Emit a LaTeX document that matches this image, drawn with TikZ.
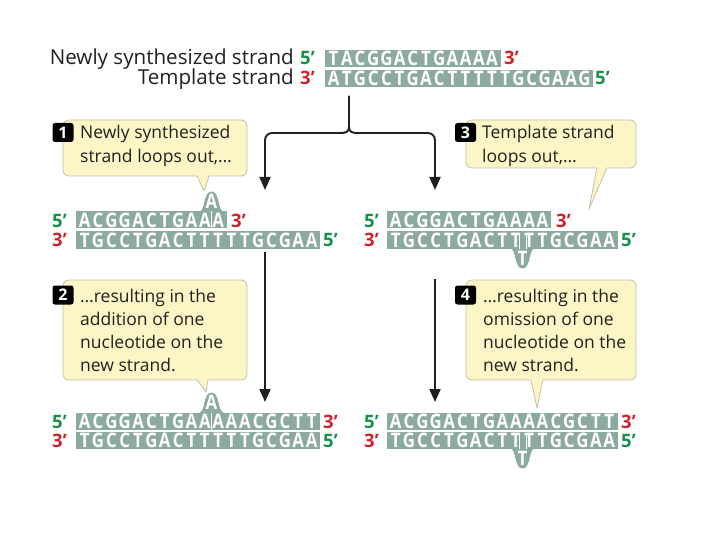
\documentclass[tikz,border=0pt]{standalone}
\usepackage{fontspec}
\setmainfont{Open Sans}
\newfontfamily\seqfont{Open Sans}[FakeStretch=0.84]
\usetikzlibrary{arrows.meta}
\definecolor{seqbox}{RGB}{141,170,159}
\definecolor{fivegreen}{RGB}{23,144,74}
\definecolor{threered}{RGB}{204,34,41}
\definecolor{callfill}{RGB}{252,245,198}
\definecolor{calldraw}{RGB}{196,192,166}
\definecolor{txt}{RGB}{35,31,32}
\tikzset{
 seq/.style={text=white, font=\seqfont\bfseries\fontsize{20}{20}\selectfont, inner sep=0, anchor=base},
 endlab/.style={font=\bfseries\fontsize{18.5}{18.5}\selectfont, inner sep=0, anchor=base west},
 five/.style={endlab, text=fivegreen},
 three/.style={endlab, text=threered},
 ctext/.style={font=\fontsize{17.5}{17.5}\selectfont, inner sep=0, anchor=base west, text=txt},
 htext/.style={font=\fontsize{20.6}{20.6}\selectfont, inner sep=0, anchor=base east, text=txt},
 badge/.style={fill=black, rounded corners=2.5, text=white, font=\bfseries\fontsize{16}{16}\selectfont, minimum width=21, minimum height=19, inner sep=0},
 callbox/.style={fill=callfill, draw=calldraw, line width=0.8, rounded corners=6},
 flow/.style={line width=1.9, txt, -{Triangle[width=11,length=13]}},
 loopline/.style={white, line width=0.7},
}
% name, x0, yc, pitch, n, letters
\newcommand\dnarow[6]{%
 \fill[seqbox] ({#2-2},{#3-8.5}) rectangle ({#2+#5*#4+2},{#3+8.5});
 \foreach \c [count=\i] in {#6} {\node[seq] (#1-\i) at ({#2+(\i-0.5)*#4},{#3+7.1}) {\c};}
}
% x, y of box top
\newcommand\bulgeup[2]{%
 \fill[seqbox] ({#1-12},{#2+1}) -- ({#1-12},#2) .. controls ({#1-6},{#2-1}) and ({#1-8.5},{#2-20}) .. ({#1},{#2-20}) .. controls ({#1+8.5},{#2-20}) and ({#1+6},{#2-1}) .. ({#1+12},#2) -- ({#1+12},{#2+1}) -- cycle;
}
% x, y of box bottom
\newcommand\bulgedown[2]{%
 \fill[seqbox] ({#1-12},{#2-1}) -- ({#1-12},#2) .. controls ({#1-6},{#2+1}) and ({#1-8.5},{#2+20}) .. ({#1},{#2+20}) .. controls ({#1+8.5},{#2+20}) and ({#1+6},{#2+1}) .. ({#1+12},#2) -- ({#1+12},{#2-1}) -- cycle;
}
% x1,y1,x2,y2, tailL, tailR, tipx, tipy
\newcommand\callout[8]{%
 \draw[callbox] (#1,#2) rectangle (#3,#4);
 \fill[callfill] (#5,{#4-1.5}) -- (#7,#8) -- (#6,{#4-1.5}) -- cycle;
 \draw[draw=calldraw, line width=0.8, line join=round] (#5,#4) -- (#7,#8) -- (#6,#4);
}
\begin{document}
\begin{tikzpicture}[x=1pt,y=-1pt]
\useasboundingbox (0,0) rectangle (720,540);

% ---------- header ----------
\node[htext] (hnew) at (294,65) {Newly synthesized strand};
\node[htext] (htemp) at (294,85) {Template strand};
\node[five] (h5a) at (300,65) {5’};
\node[three] (h3b) at (300,85) {3’};
\dnarow{hA}{327}{58.5}{13.2}{13}{T,A,C,G,G,A,C,T,G,A,A,A,A}
\dnarow{hB}{327}{78.5}{13.2}{20}{A,T,G,C,C,T,G,A,C,T,T,T,T,T,G,C,G,A,A,G}
\node[three] (h3a) at (504,65) {3’};
\node[five] (h5b) at (595,85) {5’};

% ---------- arrows ----------
\coordinate (stemtop) at (349,96);
\coordinate (l1) at (265,190);
\coordinate (r1) at (435,190);
\draw[flow] (stemtop) -- (349,127) .. controls (349,132) and (346,133) .. (340,133) [rounded corners=7] -- (265,133) -- (l1);
\draw[flow] (stemtop) -- (349,127) .. controls (349,132) and (352,133) .. (358,133) [rounded corners=7] -- (435,133) -- (r1);
\coordinate (l2s) at (265,252);
\coordinate (l2) at (265,402);
\coordinate (r2s) at (435,279);
\coordinate (r2) at (435,402);
\draw[flow] (l2s) -- (l2);
\draw[flow] (r2s) -- (r2);

% ---------- callouts ----------
\callout{63}{120}{247}{176}{197}{209}{204}{191}
\node[ctext] (c1a) at (80,139) {Newly synthesized};
\node[ctext] (c1b) at (80,163) {strand loops out,…};
\node[badge] (b1) at (63,132.5) {1};

\callout{63}{280}{247}{380}{197}{208}{206}{392}
\node[ctext] (c2a) at (80,302) {…resulting in the};
\node[ctext] (c2b) at (80,325) {addition of one};
\node[ctext] (c2c) at (80,348) {nucleotide on the};
\node[ctext] (c2d) at (80,371) {new strand.};
\node[badge] (b2) at (63,295) {2};

\callout{466}{120}{636}{168}{597}{607}{589}{209}
\node[ctext] (c3a) at (482,139) {Template strand};
\node[ctext] (c3b) at (482,163) {loops out,…};
\node[badge] (b3) at (465.5,132.5) {3};

\callout{466}{280}{636}{380}{531}{543}{537}{408}
\node[ctext] (c4a) at (483,302) {…resulting in the};
\node[ctext] (c4b) at (483,325) {omission of one};
\node[ctext] (c4c) at (483,348) {nucleotide on the};
\node[ctext] (c4d) at (483,371) {new strand.};
\node[badge] (b4) at (465.5,295) {4};

% ---------- row 1 left ----------
\bulgeup{211.5}{211.5}
\node[seq] (r1lA) at (211.5,208.5) {A};
\dnarow{r1lt}{78}{220}{13.35}{11}{A,C,G,G,A,C,T,G,A,A,A}
\dnarow{r1lb}{78}{240}{13.35}{18}{T,G,C,C,T,G,A,C,T,T,T,T,T,G,C,G,A,A}
\draw[loopline] (211.5,211.5) -- (211.5,228.5);
\node[five] (r1l5) at (52,227) {5’};
\node[three] (r1l3) at (231,227) {3’};
\node[three] (r1l3b) at (52,247) {3’};
\node[five] (r1l5b) at (323,247) {5’};

% ---------- row 1 right ----------
\dnarow{r1rt}{389}{220}{13.35}{12}{A,C,G,G,A,C,T,G,A,A,A,A}
\dnarow{r1rb}{389}{240}{13.35}{17}{T,G,C,C,T,G,A,C,T,T,T,T,G,C,G,A,A}
\bulgedown{522.5}{248.5}
\node[seq] (r1rT) at (522.5,265.5) {T};
\draw[loopline] (519,234.5) -- (519,248.5);
\draw[loopline] (526,234.5) -- (526,248.5);
\node[five] (r1r5) at (364,227) {5’};
\node[three] (r1r3) at (556,227) {3’};
\node[three] (r1r3b) at (364,247) {3’};
\node[five] (r1r5b) at (621,247) {5’};

% ---------- row 2 left ----------
\bulgeup{211.5}{412.5}
\node[seq] (r2lA) at (211.5,409.5) {A};
\dnarow{r2lt}{78}{421}{13.35}{18}{A,C,G,G,A,C,T,G,A,A,A,A,A,C,G,C,T,T}
\dnarow{r2lb}{78}{440}{13.35}{18}{T,G,C,C,T,G,A,C,T,T,T,T,T,G,C,G,A,A}
\draw[loopline] (211.5,412.5) -- (211.5,429.5);
\node[five] (r2l5) at (52,428) {5’};
\node[three] (r2l3) at (323,428) {3’};
\node[three] (r2l3b) at (52,447) {3’};
\node[five] (r2l5b) at (323,447) {5’};

% ---------- row 2 right ----------
\dnarow{r2rt}{389}{421}{13.35}{17}{A,C,G,G,A,C,T,G,A,A,A,A,C,G,C,T,T}
\dnarow{r2rb}{389}{440}{13.35}{17}{T,G,C,C,T,G,A,C,T,T,T,T,G,C,G,A,A}
\bulgedown{522.5}{448.5}
\node[seq] (r2rT) at (522.5,465.5) {T};
\draw[loopline] (519,434.5) -- (519,448.5);
\draw[loopline] (526,434.5) -- (526,448.5);
\node[five] (r2r5) at (364,428) {5’};
\node[three] (r2r3) at (621,428) {3’};
\node[three] (r2r3b) at (364,447) {3’};
\node[five] (r2r5b) at (621,447) {5’};
\end{tikzpicture}
\end{document}
